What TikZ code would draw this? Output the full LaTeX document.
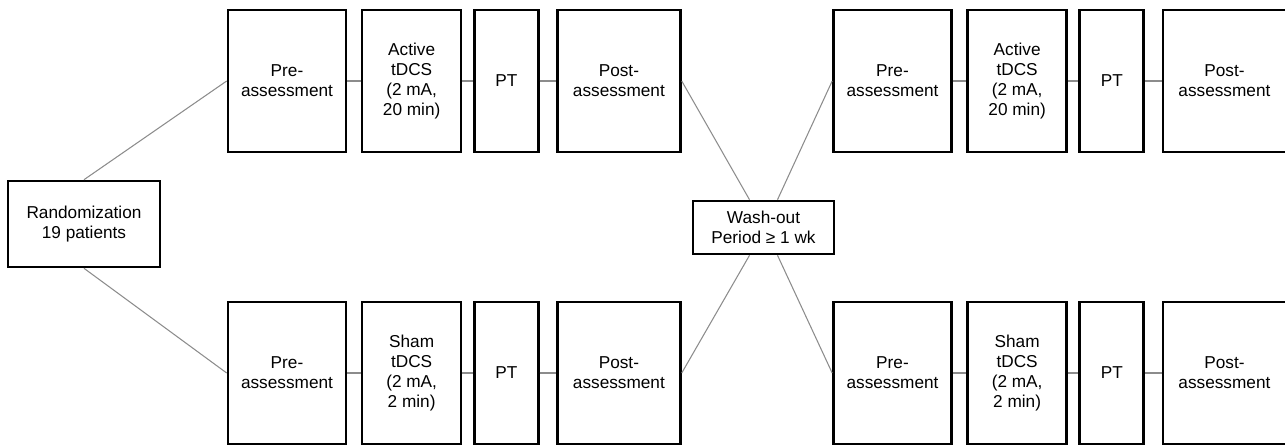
\documentclass[tikz,border=0pt]{standalone}
\usepackage{fontspec}
\setmainfont{Liberation Sans}
\usetikzlibrary{positioning}

\begin{document}
\begin{tikzpicture}[
    box/.style={rectangle, draw=black, line width=1.5pt, align=center, minimum height=2.84cm, inner sep=2pt, font=\fontsize{9.8}{11.4}\selectfont},
    prebox/.style={box, minimum width=2.36cm},
    tdcsbox/.style={box, minimum width=1.98cm},
    ptbox/.style={box, minimum width=1.28cm},
    postbox/.style={box, minimum width=2.46cm},
    link/.style={draw=black!45, line width=0.6pt}
]
    \useasboundingbox (0,0) rectangle (25.7,-8.9);

    \node [box, minimum width=3.04cm, minimum height=1.72cm] (rand) at (1.68,-4.48) {Randomization\\19 patients};

    % first period
    \node [prebox] (pre1) at (5.74,-1.62) {Pre-\\assessment};
    \node [tdcsbox, right=0.27cm of pre1] (tdcs1) {Active\\tDCS\\(2 mA,\\20 min)};
    \node [ptbox, right=0.21cm of tdcs1] (pt1) {PT};
    \node [postbox, right=0.33cm of pt1] (post1) {Post-\\assessment};

    \node [prebox] (pre2) at (5.74,-7.46) {Pre-\\assessment};
    \node [tdcsbox, right=0.27cm of pre2] (tdcs2) {Sham\\tDCS\\(2 mA,\\2 min)};
    \node [ptbox, right=0.21cm of tdcs2] (pt2) {PT};
    \node [postbox, right=0.33cm of pt2] (post2) {Post-\\assessment};

    \node [box, minimum width=2.82cm, minimum height=1.06cm] (wash) at (15.27,-4.55) {Wash-out\\Period ≥ 1 wk};

    % second period
    \node [prebox] (pre3) at (17.85,-1.62) {Pre-\\assessment};
    \node [tdcsbox, right=0.27cm of pre3] (tdcs3) {Active\\tDCS\\(2 mA,\\20 min)};
    \node [ptbox, right=0.21cm of tdcs3] (pt3) {PT};
    \node [postbox, right=0.33cm of pt3] (post3) {Post-\\assessment};

    \node [prebox] (pre4) at (17.85,-7.46) {Pre-\\assessment};
    \node [tdcsbox, right=0.27cm of pre4] (tdcs4) {Sham\\tDCS\\(2 mA,\\2 min)};
    \node [ptbox, right=0.21cm of tdcs4] (pt4) {PT};
    \node [postbox, right=0.33cm of pt4] (post4) {Post-\\assessment};

    \draw [link] (rand.north) -- (pre1.west);
    \draw [link] (rand.south) -- (pre2.west);
    \draw [link] (pre1) -- (tdcs1) -- (pt1) -- (post1);
    \draw [link] (pre2) -- (tdcs2) -- (pt2) -- (post2);
    \draw [link] (pre3) -- (tdcs3) -- (pt3) -- (post3);
    \draw [link] (pre4) -- (tdcs4) -- (pt4) -- (post4);

    \draw [link] (post1.east) -- ([xshift=-0.28cm]wash.north);
    \draw [link] (post2.east) -- ([xshift=-0.28cm]wash.south);
    \draw [link] ([xshift=0.28cm]wash.north) -- (pre3.west);
    \draw [link] ([xshift=0.28cm]wash.south) -- (pre4.west);
\end{tikzpicture}
\end{document}
